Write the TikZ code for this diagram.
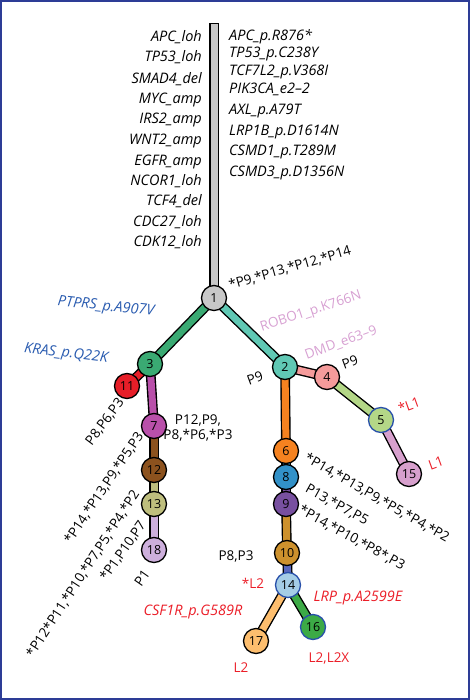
\documentclass[tikz,border=0pt]{standalone}
\usepackage{fontspec}
\setmainfont{Open Sans}
\usetikzlibrary{backgrounds}

\definecolor{framecol}{RGB}{45,60,150}
\definecolor{trunkgray}{RGB}{200,200,200}
\definecolor{c1}{RGB}{200,200,200}
\definecolor{c2}{RGB}{96,200,180}
\definecolor{c3}{RGB}{58,170,115}
\definecolor{c4}{RGB}{245,155,155}
\definecolor{c5}{RGB}{180,215,135}
\definecolor{c6}{RGB}{245,130,32}
\definecolor{c7}{RGB}{185,80,170}
\definecolor{c8}{RGB}{50,145,200}
\definecolor{c9}{RGB}{120,80,160}
\definecolor{c10}{RGB}{205,145,45}
\definecolor{c11}{RGB}{230,30,40}
\definecolor{c12}{RGB}{140,82,30}
\definecolor{c13}{RGB}{190,190,125}
\definecolor{c14}{RGB}{165,205,230}
\definecolor{c15}{RGB}{215,160,205}
\definecolor{c16}{RGB}{60,170,70}
\definecolor{c17}{RGB}{253,190,110}
\definecolor{c18}{RGB}{205,175,220}
\definecolor{e14}{RGB}{90,105,190}
\definecolor{cloneblue}{RGB}{40,80,170}
\definecolor{bluetxt}{RGB}{40,90,175}
\definecolor{redtxt}{RGB}{235,30,40}
\definecolor{pinktxt}{RGB}{215,160,210}

\tikzset{
  clone/.style={circle, draw, line width=1.3pt, fill=#1, minimum size=25pt,
    inner sep=0pt, font=\fontsize{12.5}{12.5}\selectfont},
  subclone/.style={clone=#1, draw=cloneblue},
  branch/.style={draw=black, line width=1.4pt, double=#1, double distance=7pt, line cap=rect},
  lab/.style={inner sep=0pt, font=\fontsize{13.5}{13.5}\selectfont},
  gene/.style={inner sep=0pt, font=\fontsize{14.5}{14.5}\selectfont\itshape},
}

\begin{document}
\begin{tikzpicture}[x=1pt, y=-1pt]
  \useasboundingbox (0,0) rectangle (470,700);
  \draw[framecol, line width=2pt] (1,1) rectangle (469,699);

  % clones
  \node[clone=c1]  (n1)  at (214,298) {1};
  \node[clone=c3]  (n3)  at (150,364) {3};
  \node[clone=c11] (n11) at (127,386) {11};
  \node[clone=c7]  (n7)  at (154,426) {7};
  \node[clone=c12] (n12) at (154,470) {12};
  \node[clone=c13] (n13) at (154,504) {13};
  \node[clone=c18] (n18) at (154,550) {18};
  \node[clone=c2]  (n2)  at (285,367) {2};
  \node[clone=c4]  (n4)  at (327,377) {4};
  \node[subclone=c5]  (n5)  at (381,420) {5};
  \node[clone=c15] (n15) at (409,474) {15};
  \node[clone=c6]  (n6)  at (286,451) {6};
  \node[clone=c8]  (n8)  at (286,477) {8};
  \node[clone=c9]  (n9)  at (286,504) {9};
  \node[clone=c10] (n10) at (287,553) {10};
  \node[subclone=c14] (n14) at (288,585) {14};
  \node[subclone=c16] (n16) at (313,627) {16};
  \node[clone=c17] (n17) at (256,641) {17};

  % branches
  \begin{scope}[on background layer]
    \coordinate (root) at (214,28);
    \draw[branch=trunkgray] (root) -- (n1.center);
    \draw[branch=c3]  (n1.center) -- (n3.center);
    \draw[branch=c11] (n3.center) -- (n11.center);
    \draw[branch=c7]  (n3.center) -- (n7.center);
    \draw[branch=c12] (n7.center) -- (n12.center);
    \draw[branch=c13] (n12.center) -- (n13.center);
    \draw[branch=c18] (n13.center) -- (n18.center);
    \draw[branch=c2]  (n1.center) -- (n2.center);
    \draw[branch=c4]  (n2.center) -- (n4.center);
    \draw[branch=c5]  (n4.center) -- (n5.center);
    \draw[branch=c15] (n5.center) -- (n15.center);
    \draw[branch=c6]  (n2.center) -- (n6.center);
    \draw[branch=c8]  (n6.center) -- (n8.center);
    \draw[branch=c9]  (n8.center) -- (n9.center);
    \draw[branch=c10] (n9.center) -- (n10.center);
    \draw[branch=e14] (n10.center) -- (n14.center);
    \draw[branch=c16] (n14.center) -- (n16.center);
    \draw[branch=c17] (n14.center) -- (n17.center);
  \end{scope}

  % trunk events
  \node[gene, anchor=base east] (tl1)  at (202,42)  {APC\_loh};
  \node[gene, anchor=base east] (tl2)  at (202,62)  {TP53\_loh};
  \node[gene, anchor=base east] (tl3)  at (202,84)  {SMAD4\_del};
  \node[gene, anchor=base east] (tl4)  at (202,104) {MYC\_amp};
  \node[gene, anchor=base east] (tl5)  at (202,124) {IRS2\_amp};
  \node[gene, anchor=base east] (tl6)  at (202,145) {WNT2\_amp};
  \node[gene, anchor=base east] (tl7)  at (202,166) {EGFR\_amp};
  \node[gene, anchor=base east] (tl8)  at (202,186) {NCOR1\_loh};
  \node[gene, anchor=base east] (tl9)  at (202,206) {TCF4\_del};
  \node[gene, anchor=base east] (tl10) at (202,227) {CDC27\_loh};
  \node[gene, anchor=base east] (tl11) at (202,247) {CDK12\_loh};
  \node[gene, anchor=base west] (tr1)  at (229,41)  {APC\_p.R876*};
  \node[gene, anchor=base west] (tr2)  at (229,58)  {TP53\_p.C238Y};
  \node[gene, anchor=base west] (tr3)  at (229,76)  {TCF7L2\_p.V368I};
  \node[gene, anchor=base west] (tr4)  at (229,94)  {PIK3CA\_e2–2};
  \node[gene, anchor=base west] (tr5)  at (229,115) {AXL\_p.A79T};
  \node[gene, anchor=base west] (tr6)  at (229,136) {LRP1B\_p.D1614N};
  \node[gene, anchor=base west] (tr7)  at (229,156) {CSMD1\_p.T289M};
  \node[gene, anchor=base west] (tr8)  at (229,177) {CSMD3\_p.D1356N};

  % branch events and samples
  \node[lab, rotate=16] (s1) at (290,268) {*P9,*P13,*P12,*P14};
  \node[lab, pinktxt, rotate=18] (g2a) at (311,312) {ROBO1\_p.K766N};
  \node[lab, pinktxt, rotate=20] (g2b) at (341,343) {DMD\_e63–9};
  \node[lab, rotate=20] (s4) at (350,362) {P9};
  \node[lab, rotate=20] (s2) at (255,378) {P9};
  \node[lab, redtxt, rotate=20] (s5) at (409,405) {*L1};
  \node[lab, redtxt, rotate=20] (s15) at (436,463) {L1};
  \node[gene, bluetxt, rotate=-6] (g3a) at (106,307) {PTPRS\_p.A907V};
  \node[gene, bluetxt, rotate=-7] (g3b) at (66,354) {KRAS\_p.Q22K};
  \node[lab, rotate=53] (s11) at (105,422) {P8,P6,P3};
  \node[lab, align=center] (s7) at (198,428) {P12,P9,\\[2pt]P8,*P6,*P3};
  \node[lab, rotate=56] (s12) at (104,488) {*P14,*P13,P9,*P5,P3};
  \node[lab, rotate=57] (s13) at (83,574) {*P12*P11,*P10,*P7,P5,*P4,*P2};
  \node[lab, rotate=55] (s18a) at (123,551) {*P1,P10,P7};
  \node[lab, rotate=55] (s18b) at (142,578) {P1};
  \node[lab, rotate=-30] (s6) at (377,498) {*P14,*P13,P9,*P5,*P4,*P2};
  \node[lab, rotate=-29] (s8) at (337,505) {P13,*P7,P5};
  \node[lab, rotate=-29] (s9) at (352,538) {*P14,*P10,*P8*,P3};
  \node[lab] (s10) at (236,556) {P8,P3};
  \node[lab, redtxt] (s14) at (253,583) {*L2};
  \node[gene, redtxt] (g17) at (193,612) {CSF1R\_p.G589R};
  \node[gene, redtxt] (g16) at (358,598) {LRP\_p.A2599E};
  \node[lab, redtxt] (s17) at (241,668) {L2};
  \node[lab, redtxt] (s16) at (329,658) {L2,L2X};
\end{tikzpicture}
\end{document}
